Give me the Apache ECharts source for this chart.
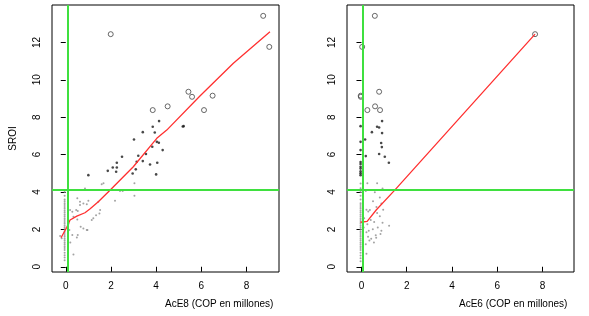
<!DOCTYPE html>
<html>
<head>
<meta charset="utf-8">
<script src="https://cdn.jsdelivr.net/npm/echarts@6/dist/echarts.min.js"></script>
<style>
  html, body { margin: 0; padding: 0; background: #fff; }
  #chart { width: 589px; height: 316px; }
</style>
</head>
<body>
<div id="chart"></div>
<script>
// tick values shared by both panels
const xTicks = [0, 2, 4, 6, 8]
const yTicks = [0, 2, 4, 6, 8, 10, 12]

// reference lines (green)
const cutX = [0.1, 0.07]
const cutY = 4.1

// --- left panel: AcE8 vs SROI ---
const leftOpen = [[8.74, 13.42], [1.99, 12.44], [9.01, 11.76], [5.43, 9.36], [5.59, 9.09],
  [6.50, 9.15], [4.51, 8.58], [3.85, 8.38], [6.12, 8.38]]
const leftFilled = [[4.13, 7.79], [3.85, 7.49], [5.22, 7.52], [5.18, 7.50], [3.41, 7.20],
  [3.94, 7.18], [3.02, 6.81], [4.03, 6.68], [4.12, 6.63], [3.83, 6.42], [3.55, 6.03],
  [4.29, 6.24], [2.49, 5.88], [3.21, 5.94], [3.14, 5.62], [3.41, 5.65], [2.26, 5.56],
  [2.08, 5.31], [2.26, 5.31], [3.73, 5.47], [4.05, 5.56], [1.86, 5.13], [2.23, 5.08],
  [3.10, 5.21], [2.96, 4.99], [1.0, 4.90], [4.0, 4.94]]
const leftSmall = [[1.59, 4.41], [1.67, 4.46], [2.4, 4.05], [2.52, 4.05], [3.04, 4.46],
  [3.04, 3.8], [2.18, 3.53], [1.44, 3.48], [1.0, 3.53], [0.78, 3.39], [0.63, 3.3],
  [0.46, 3.03], [0.53, 2.98], [0.29, 2.94], [0.19, 3.03], [0.34, 2.67], [0.51, 2.53],
  [0.66, 2.14], [0.78, 2.05], [0.93, 1.96], [1.15, 2.5], [1.22, 2.59], [1.34, 2.76],
  [1.49, 2.85], [1.52, 3.03], [0.29, 1.7], [0.49, 1.57], [0.16, 1.96], [0.34, 0.66],
  [-0.18, 1.52], [-0.25, 1.64], [0.85, 4.19], [0.51, 3.66], [0.63, 3.48], [0.93, 3.35],
  [0.96, 1.96], [0.53, 1.7], [0.12, 2.3], [0.2, 1.3]]
const leftColumnX = -0.05
const leftColumnY = [0.35, 0.5, 0.62, 0.75, 0.9, 1.0, 1.1, 1.2, 1.3, 1.4, 1.5, 1.6, 1.7,
  1.8, 1.9, 2.0, 2.1, 2.2, 2.3, 2.4, 2.5, 2.6, 2.7, 2.8, 2.9, 3.0, 3.1, 3.2, 3.3, 3.4,
  3.5, 3.6, 3.8, 4.0]
const leftLowess = [[-0.21, 1.55], [0.04, 2.1], [0.19, 2.5], [0.49, 2.71], [0.85, 2.89],
  [1.08, 3.1], [1.44, 3.48], [1.98, 4.12], [2.99, 5.35], [4.03, 6.87], [4.47, 7.31],
  [5.94, 9.13], [7.42, 10.88], [9.04, 12.57]]

// --- right panel: AcE6 vs SROI ---
const rightOpen = [[0.59, 13.42], [7.67, 12.44], [0.03, 11.76], [0.78, 9.36], [-0.03, 9.15],
  [-0.03, 9.09], [0.6, 8.58], [0.26, 8.38], [0.82, 8.38]]
const rightFilled = [[0.91, 7.79], [-0.04, 7.52], [0.69, 7.49], [0.78, 7.45], [0.46, 7.2],
  [0.91, 7.15], [0.16, 6.81], [-0.04, 6.68], [0.87, 6.62], [0.9, 6.4], [-0.04, 6.24],
  [0.78, 6.03], [0.19, 5.92], [1.03, 5.88], [1.21, 5.56], [-0.04, 5.6], [-0.04, 5.5],
  [-0.04, 5.35], [-0.04, 5.25], [-0.04, 5.1], [-0.04, 5.0], [-0.04, 4.9]]
const rightSmall = [[0.26, 4.46], [0.69, 4.46], [0.69, 4.1], [0.93, 4.19], [0.19, 4.05],
  [0.59, 3.98], [0.81, 3.7], [0.51, 3.5], [0.88, 3.38], [0.96, 3.05], [0.22, 3.05],
  [0.37, 3.03], [0.66, 3.2], [0.69, 2.87], [0.81, 2.7], [0.41, 2.5], [0.56, 2.4],
  [0.26, 2.28], [0.93, 2.35], [1.22, 2.2], [0.72, 2.1], [0.5, 2.0], [0.32, 1.93],
  [0.1, 2.1], [0.88, 1.93], [0.22, 1.84], [0.63, 1.68], [0.84, 1.75], [0.29, 1.6],
  [0.43, 1.5], [0.65, 1.55], [0.35, 1.4], [0.19, 1.2], [0.55, 1.3], [0.22, 0.7],
  [0.12, 2.6], [0.3, 2.95]]
const rightColumnX = -0.04
const rightColumnY = [0.3, 0.45, 0.6, 0.75, 0.9, 1.0, 1.1, 1.2, 1.3, 1.4, 1.5, 1.6, 1.7,
  1.8, 1.9, 2.0, 2.1, 2.2, 2.3, 2.4, 2.5, 2.6, 2.7, 2.8, 2.9, 3.0, 3.1, 3.2, 3.3, 3.4,
  3.6, 3.8, 4.0, 4.2, 4.45]
const rightLowess = [[-0.04, 2.38], [0.25, 2.43], [0.66, 3.05], [1.47, 4.1], [7.67, 12.44]]

const FONT = 'Liberation Sans, Arial, sans-serif'
const RED = '#ff3030'
const chart = echarts.init(document.getElementById('chart'))

function xAxisFor(gridIndex, min, max) {
  return {
    type: 'value', gridIndex, min, max,
    splitLine: { show: false },
    axisLine: { show: false },
    axisTick: { show: true, length: 5, lineStyle: { color: '#000' }, customValues: xTicks },
    axisLabel: { color: '#000', fontSize: 10, fontFamily: FONT, margin: 9, customValues: xTicks },
  }
}

function yAxisFor(gridIndex, name) {
  return {
    type: 'value', gridIndex, min: -0.28, max: 14.0,
    name, nameLocation: 'middle', nameGap: 34, nameRotate: 90,
    nameTextStyle: { color: '#000', fontSize: 10, fontFamily: FONT },
    splitLine: { show: false },
    axisLine: { show: false },
    axisTick: { show: true, length: 5, lineStyle: { color: '#000' }, customValues: yTicks },
    axisLabel: { color: '#000', fontSize: 10, fontFamily: FONT, rotate: 90, margin: 10, customValues: yTicks },
  }
}

function pointSeries(idx, data, kind) {
  const styles = {
    open: { size: 5, itemStyle: { color: 'rgba(0,0,0,0)', borderColor: '#444', borderWidth: 1 } },
    filled: { size: 2.6, itemStyle: { color: '#1a1a1a' } },
    small: { size: 2, itemStyle: { color: '#8c8c8c' } },
  }
  return {
    type: 'scatter', xAxisIndex: idx, yAxisIndex: idx, data,
    symbol: 'circle', symbolSize: styles[kind].size, itemStyle: styles[kind].itemStyle,
    silent: true,
  }
}

function guideSeries(idx) {
  return {
    type: 'scatter', xAxisIndex: idx, yAxisIndex: idx, data: [], silent: true,
    markLine: {
      symbol: 'none', silent: true, animation: false, label: { show: false },
      lineStyle: { color: '#3fe03f', width: 2, type: 'solid' },
      data: [{ xAxis: cutX[idx] }, { yAxis: cutY }],
    },
  }
}

// lowess curve; a touch over 1px so the hue survives anti-aliasing
function lowessSeries(idx, data) {
  return {
    type: 'line', xAxisIndex: idx, yAxisIndex: idx, data,
    showSymbol: false, silent: true,
    lineStyle: { color: RED, width: 1.3 },
  }
}

chart.setOption({
  backgroundColor: '#fff',
  animation: false,
  grid: [
    { left: 52, top: 5, width: 227, height: 267, show: true, borderColor: '#000', borderWidth: 1, backgroundColor: 'transparent' },
    { left: 347, top: 5, width: 227, height: 267, show: true, borderColor: '#000', borderWidth: 1, backgroundColor: 'transparent' },
  ],
  xAxis: [xAxisFor(0, -0.61, 9.44), xAxisFor(1, -0.64, 9.39)],
  yAxis: [yAxisFor(0, 'SROI'), yAxisFor(1, '')],
  series: [
    pointSeries(0, leftColumnY.map(y => [leftColumnX, y]), 'small'),
    pointSeries(0, leftSmall, 'small'),
    pointSeries(0, leftFilled, 'filled'),
    pointSeries(0, leftOpen, 'open'),
    guideSeries(0),
    lowessSeries(0, leftLowess),
    pointSeries(1, rightColumnY.map(y => [rightColumnX, y]), 'small'),
    pointSeries(1, rightSmall, 'small'),
    pointSeries(1, rightFilled, 'filled'),
    pointSeries(1, rightOpen, 'open'),
    guideSeries(1),
    lowessSeries(1, rightLowess),
  ],
  // x axis titles sit right of centre in the original
  graphic: [
    { type: 'text', left: 165, top: 299, style: { text: 'AcE8 (COP en millones)', fill: '#000', font: '10px ' + FONT } },
    { type: 'text', left: 459, top: 299, style: { text: 'AcE6 (COP en millones)', fill: '#000', font: '10px ' + FONT } },
  ],
})
</script>
</body>
</html>
